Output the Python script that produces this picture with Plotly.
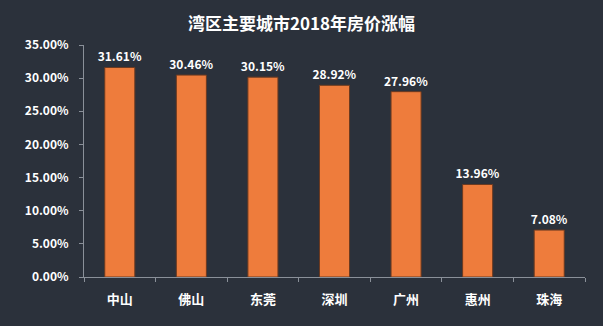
import plotly.graph_objects as go

cities = ["中山", "佛山", "东莞", "深圳", "广州", "惠州", "珠海"]
values = [31.61, 30.46, 30.15, 28.92, 27.96, 13.96, 7.08]
labels = ["31.61%", "30.46%", "30.15%", "28.92%", "27.96%", "13.96%", "7.08%"]
yticks = [0, 5, 10, 15, 20, 25, 30, 35]
yticklabels = ["0.00%", "5.00%", "10.00%", "15.00%", "20.00%", "25.00%", "30.00%", "35.00%"]

bg = "#2b313b"
font_family = "Noto Sans CJK SC, Noto Sans, sans-serif"

fig = go.Figure(go.Bar(
    x=cities, y=values, text=["<b>" + t + "</b>" for t in labels], textposition="outside",
    constraintext="none",
    textfont=dict(color="white", size=12, family=font_family),
    marker=dict(color="#ee7c3c", line=dict(color="#6b3a20", width=1)),
    width=0.42, cliponaxis=False,
))

fig.update_layout(
    width=603, height=326,
    paper_bgcolor=bg, plot_bgcolor=bg,
    margin=dict(l=84, r=18, t=45, b=49),
    title=dict(text="<b>湾区主要城市2018年房价涨幅</b>", x=0.5, xanchor="center",
               y=0.925, yanchor="middle",
               font=dict(color="white", size=17, family=font_family)),
    font=dict(family=font_family, color="white"),
    showlegend=False,
)
fig.update_xaxes(
    tickvals=cities, ticktext=["<b>" + c + "</b>" for c in cities],
    showline=True, linecolor="#8a9099", linewidth=1,
    ticks="outside", tickson="boundaries", ticklen=4, tickcolor="#8a9099",
    tickfont=dict(color="white", size=13, family=font_family),
    showgrid=False, ticklabelstandoff=10,
)
fig.update_yaxes(
    range=[0, 35], tickvals=yticks, ticktext=["<b>" + t + "</b>" for t in yticklabels],
    showline=True, linecolor="#8a9099", linewidth=1,
    ticks="outside", ticklen=4, tickcolor="#8a9099",
    tickfont=dict(color="white", size=12, family=font_family),
    showgrid=False, zeroline=False, ticklabelstandoff=8,
)

fig.write_html("out.html")
